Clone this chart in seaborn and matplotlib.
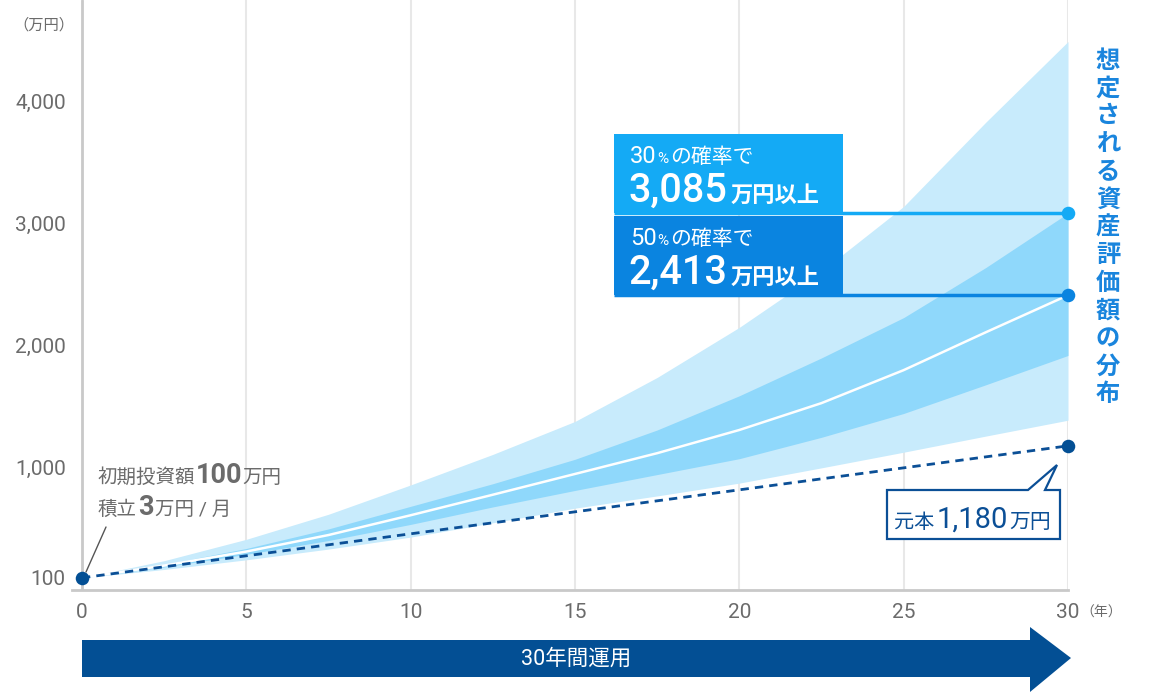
import matplotlib
matplotlib.use("Agg")
import matplotlib.pyplot as plt
from matplotlib.patches import Rectangle, Polygon
from matplotlib.lines import Line2D
import seaborn as sns

# --- data (万円) ---
years = [0, 2.5, 5, 7.5, 10, 12.5, 15, 17.5, 20, 22.5, 25, 27.5, 30]
outer_upper = [100, 240, 415, 620, 860, 1110, 1380, 1740, 2150, 2610, 3140, 3830, 4490]
inner_upper = [100, 210, 340, 500, 685, 870, 1070, 1310, 1590, 1900, 2230, 2640, 3085]
median = [100, 200, 315, 450, 612, 780, 950, 1120, 1310, 1530, 1800, 2110, 2413]
inner_lower = [100, 188, 292, 405, 537, 680, 815, 945, 1075, 1250, 1445, 1680, 1920]
outer_lower = [100, 168, 247, 335, 433, 550, 670, 770, 875, 1000, 1128, 1260, 1390]

principal_years = [0, 30]
principal = [100, 1180]

p30_value = 3085
p50_value = 2413

y_ticks = [100, 1000, 2000, 3000, 4000]
y_tick_labels = ["100", "1,000", "2,000", "3,000", "4,000"]
x_ticks = [0, 5, 10, 15, 20, 25, 30]

sns.set_theme(style="white")
plt.rcParams["font.family"] = ["Roboto", "Noto Sans CJK JP"]

W, H = 1152, 695
GRAY = "#6b6b6b"
NAVY = "#0b4f96"
C30 = "#14aaf5"
C50 = "#0a84e0"

fig = plt.figure(figsize=(W / 100, H / 100), dpi=100)
ax = fig.add_axes([72 / W, 1 - 590 / H, (1068 - 72) / W, 590 / H])
renderer = fig.canvas.get_renderer()


def fxy(x, y):
    return x / W, 1 - y / H


# bands
ax.fill_between(years, outer_lower, outer_upper, color="#c8ebfc", lw=0, zorder=2)
ax.fill_between(years, inner_lower, inner_upper, color="#8fd8fb", lw=0, zorder=3)
sns.lineplot(x=years, y=median, color="white", lw=1.8, ax=ax, zorder=4)
sns.lineplot(x=principal_years, y=principal, color=NAVY, lw=2,
             linestyle=(0, (3, 2.2)), ax=ax, zorder=5)

# grid + axis lines
for xv in x_ticks[1:]:
    ax.axvline(xv, color="#e8e8e8", lw=1.5, zorder=0)
ax.axvline(0, color="#c9c9c9", lw=2, zorder=1)

ax.set_xlim(-0.304, 30)
ax.set_ylim(0, 4830)
for s in ["top", "right", "left"]:
    ax.spines[s].set_visible(False)
ax.spines["bottom"].set_color("#c9c9c9")
ax.spines["bottom"].set_linewidth(2)

ax.set_yticks(y_ticks)
ax.set_yticklabels(y_tick_labels)
ax.set_xticks(x_ticks)
ax.set_xticklabels([str(v) for v in x_ticks])
ax.tick_params(axis="y", length=0, pad=4.5, labelsize=15, labelcolor=GRAY)
ax.tick_params(axis="x", length=0, pad=9, labelsize=15, labelcolor=GRAY)
ax.set_xlabel("")
ax.set_ylabel("")

fig.text(*fxy(44, 25), "（万円）", ha="center", va="center", fontsize=11, color=GRAY)
fig.text(*fxy(1080, 613), "（年）", ha="left", va="center", fontsize=10, color=GRAY)

# probability boxes and connectors
box_x0, box_x1 = 16.2, 23.15
box_h = 650
for val, col in [(p30_value, C30), (p50_value, C50)]:
    ax.plot([box_x0, 30], [val, val], color=col, lw=2.5, zorder=6, solid_capstyle="butt")
    ax.add_patch(Rectangle((box_x0, val), box_x1 - box_x0, box_h, color=col, lw=0, zorder=7))
    ax.scatter([30], [val], s=95, color=col, zorder=8, clip_on=False, linewidths=0)

ax.scatter([0, 30], principal, s=95, color="#034f94", zorder=8, clip_on=False, linewidths=0)


def runs(x, y, parts, color):
    cur = x
    for s, size, weight, gap in parts:
        t = fig.text(cur / W, 1 - y / H, s, fontsize=size, fontweight=weight,
                     color=color, ha="left", va="baseline", zorder=10)
        cur += t.get_window_extent(renderer).width + gap


for (l1, l2), base in [(("30", "3,085"), 163), (("50", "2,413"), 245)]:
    runs(630, base, [(l1, 17, "normal", 1), ("%", 11, "normal", 1),
                     ("の確率で", 15, "normal", 0)], "white")
    runs(628, base + 39, [(l2, 28.5, "medium", 4), ("万円以上", 16, "bold", 0)], "white")

# principal callout
callout = [(887, 490), (1028, 490), (1057, 465), (1045, 490), (1060, 490),
           (1060, 539), (887, 539)]
fig.patches.append(Polygon([fxy(*p) for p in callout], closed=True, facecolor="white",
                           edgecolor=NAVY, lw=1.6, transform=fig.transFigure, zorder=9))
runs(894, 528, [("元本", 14.5, "normal", 2), ("1,180", 21, "normal", 2),
                ("万円", 15, "normal", 0)], NAVY)

# initial investment note
fig.lines.append(Line2D([86 / W, 106 / W], [1 - 572 / H, 1 - 527 / H], color="#555555",
                        lw=1, transform=fig.transFigure))
runs(98, 483, [("初期投資額", 14, "normal", 0), ("100", 19.5, "bold", 0),
               ("万円", 14, "normal", 0)], GRAY)
runs(98, 515, [("積立", 14, "normal", 1), ("3", 19.5, "bold", 1),
               ("万円 / 月", 14, "normal", 0)], GRAY)

# vertical title
title = "想定される資産評価額の分布"
for i, ch in enumerate(title):
    fig.text(*fxy(1108, 61 + 27.8 * i), ch, ha="center", va="center", fontsize=17.5,
             fontweight="bold", color="#1a85dd")

# bottom arrow
arrow = [(82, 640), (1030, 640), (1030, 627), (1071, 658), (1030, 692), (1030, 677), (82, 677)]
fig.patches.append(Polygon([fxy(*p) for p in arrow], closed=True, facecolor="#034f94",
                           edgecolor="none", transform=fig.transFigure))
fig.text(*fxy(576, 659), "30年間運用", ha="center", va="center", fontsize=15.5, color="white")

fig.savefig("out.png", dpi=100)
